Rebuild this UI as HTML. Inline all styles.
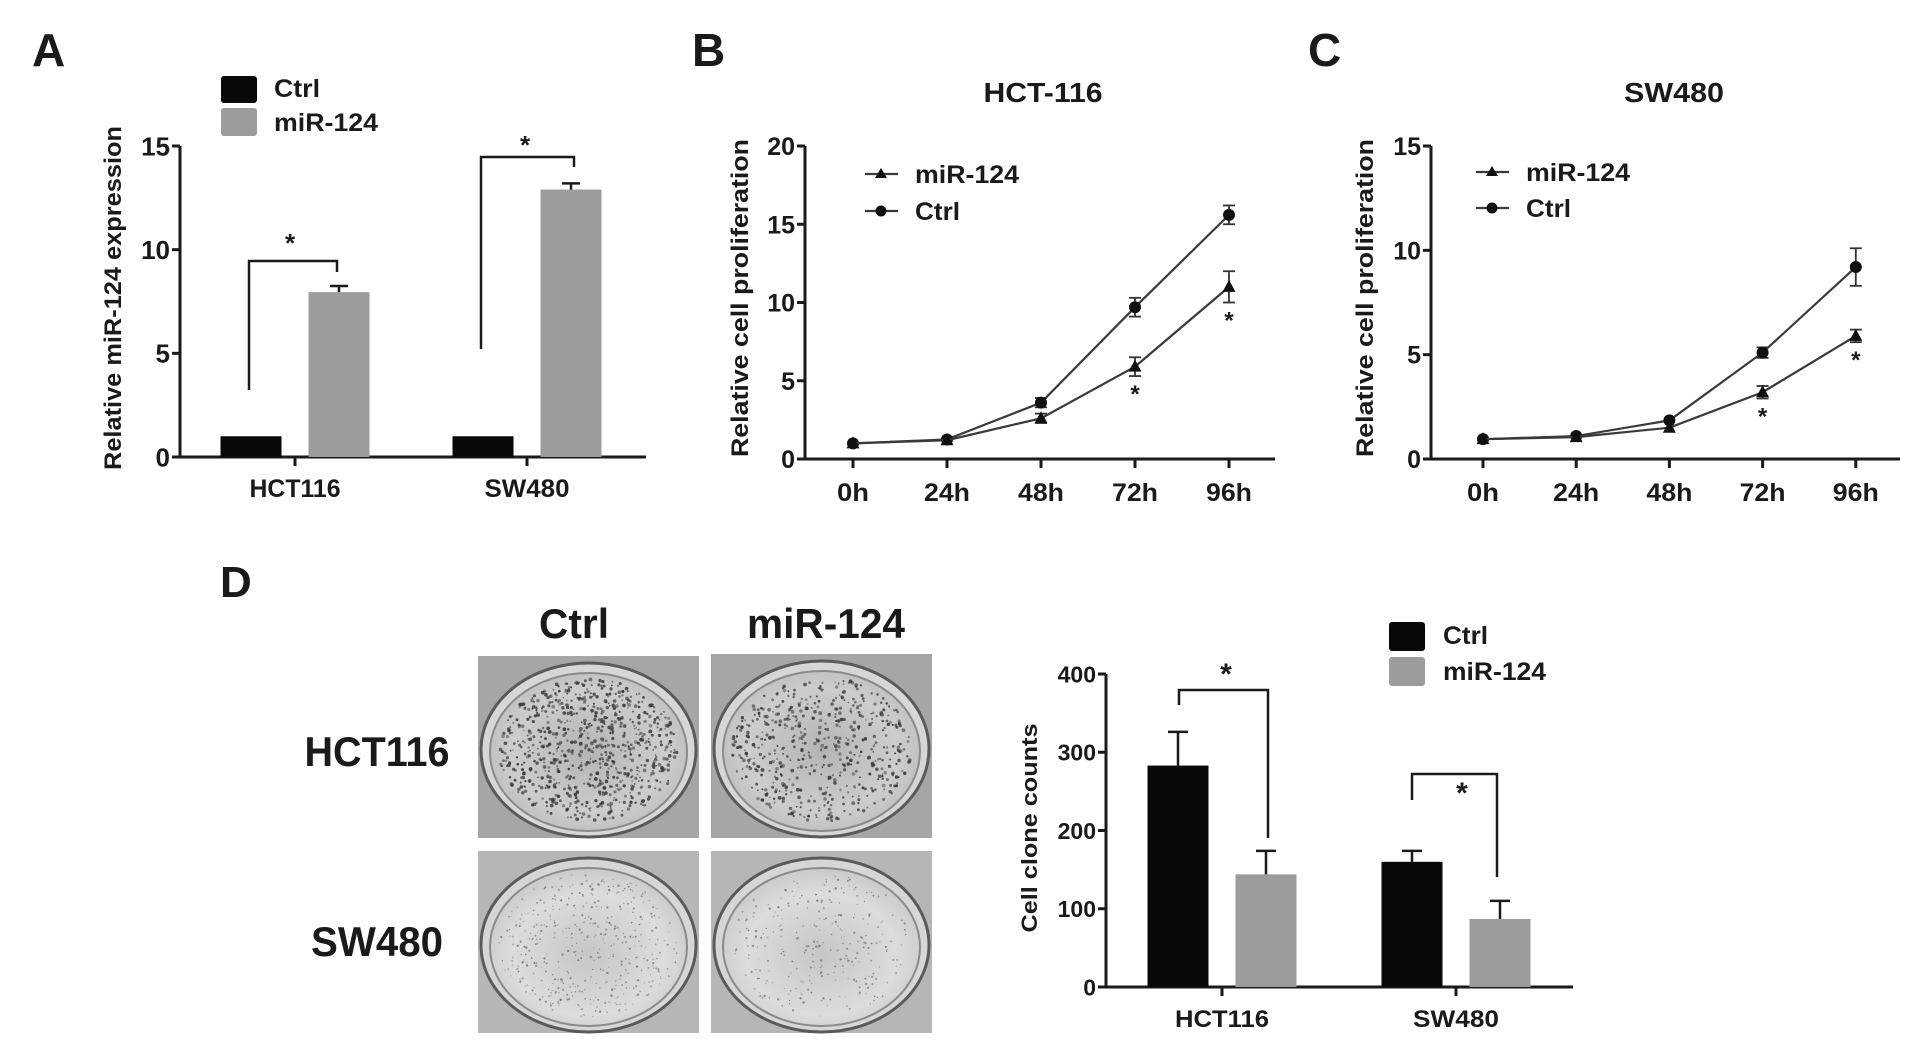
<!DOCTYPE html>
<html><head><meta charset="utf-8">
<style>
html,body{margin:0;padding:0;background:#fff;overflow:hidden;}
svg{display:block;}
text{font-family:"Liberation Sans",sans-serif;font-weight:bold;fill:#1a1a1a;}
</style></head>
<body>
<svg id="fig" width="1913" height="1052" viewBox="0 0 1913 1052" xmlns="http://www.w3.org/2000/svg">
<defs>
<radialGradient id="dishTop" cx="50%" cy="50%" r="55%">
<stop offset="0" stop-color="#b4b4b4"/><stop offset="0.7" stop-color="#cdcdcd"/><stop offset="1" stop-color="#bdbdbd"/></radialGradient>
<radialGradient id="dishBot" cx="50%" cy="55%" r="55%">
<stop offset="0" stop-color="#c6c6c6"/><stop offset="0.7" stop-color="#dcdcdc"/><stop offset="1" stop-color="#cacaca"/></radialGradient>
</defs>
<text x="32" y="66" font-size="46">A</text>
<text x="692" y="66" font-size="46">B</text>
<text x="1308" y="66" font-size="46">C</text>
<text x="220" y="597" font-size="44">D</text>
<g id="gA"></g>
<g id="gB"></g>
<g id="gC"></g>
<g id="gPlates"></g>
<g id="gD"></g>
</svg>
<script>
// ---- Panel A data ----
const aGroups = ["HCT116", "SW480"];
const aCtrl = [1.0, 1.0];
const aMir = [7.95, 12.9];
const aMirErr = [0.3, 0.3];
const aTicks = [0, 5, 10, 15];
// ---- Panel B data ----
const timeLabels = ["0h", "24h", "48h", "72h", "96h"];
const bCtrl = [1.0, 1.25, 3.6, 9.7, 15.6];
const bCtrlErr = [0.1, 0.1, 0.3, 0.6, 0.6];
const bMir = [1.0, 1.2, 2.6, 5.9, 11.0];
const bMirErr = [0.1, 0.1, 0.3, 0.6, 1.0];
const bTicks = [0, 5, 10, 15, 20];
const bStars = [3, 4];
// ---- Panel C data ----
const cCtrl = [0.95, 1.1, 1.85, 5.1, 9.2];
const cCtrlErr = [0.05, 0.05, 0.1, 0.25, 0.9];
const cMir = [0.95, 1.05, 1.5, 3.2, 5.9];
const cMirErr = [0.05, 0.05, 0.1, 0.3, 0.3];
const cTicks = [0, 5, 10, 15];
const cStars = [3, 4];
// ---- Panel D data ----
const dGroups = ["HCT116", "SW480"];
const dCtrl = [283, 160];
const dCtrlErr = [43, 14];
const dMir = [144, 87];
const dMirErr = [30, 23];
const dTicks = [0, 100, 200, 300, 400];

const NS = "http://www.w3.org/2000/svg";
function mk(parent, tag, attrs, txt) {
  const e = document.createElementNS(NS, tag);
  for (const k in attrs) e.setAttribute(k, attrs[k]);
  if (txt !== undefined) e.textContent = txt;
  parent.appendChild(e);
  return e;
}
function line(p, x1, y1, x2, y2, sw, col) {
  return mk(p, "line", {x1: x1, y1: y1, x2: x2, y2: y2, stroke: col || "#1a1a1a", "stroke-width": sw || 3});
}
function yAxis(p, x, y0, y1, vmax, ticks, fs) {
  const sc = v => y0 - (y0 - y1) * v / vmax;
  const ax = line(p, x, y0 + 1.5, x, y1, 3);
  
  
  ticks.forEach(t => {
    line(p, x - 8, sc(t), x, sc(t), 3);
    const tl = mk(p, "text", {x: x - 10, y: sc(t) + fs * 0.36, "font-size": fs, "text-anchor": "end"}, String(t));
    
    
  });
  return sc;
}
function yTitle(p, cx, cy, len, txt, fs) {
  const t = mk(p, "text", {x: 0, y: 0, "font-size": fs, "text-anchor": "middle", transform: `translate(${cx},${cy}) rotate(-90)`, textLength: len, lengthAdjust: "spacingAndGlyphs"}, txt);
  
  
}
function label(p, x, y, txt, fs, len, anchor, name) {
  const a = {x: x, y: y, "font-size": fs, "text-anchor": anchor || "middle"};
  if (len) { a.textLength = len; a.lengthAdjust = "spacingAndGlyphs"; }
  const t = mk(p, "text", a, txt);
  
  
  return t;
}
function star(p, x, y, fs) {
  const s = mk(p, "text", {x: x, y: y, "font-size": fs, "text-anchor": "middle"}, "*");
  
  
}
function bracket(p, xl, yl, xr, yr, ytop) {
  const b = mk(p, "polyline", {points: `${xl},${yl} ${xl},${ytop} ${xr},${ytop} ${xr},${yr}`, fill: "none", stroke: "#1a1a1a", "stroke-width": 2.5});
  
  
}

// ================= Panel A =================
(function () {
  const g = document.getElementById("gA");
  const X0 = 180, Y0 = 457, Y1 = 146, XE = 646;
  const sy = yAxis(g, X0, Y0, Y1, 15, aTicks, 26);
  line(g, X0 - 1.5, Y0, XE, Y0, 3);
  const centers = [295, 527], bw = 61, off = 44;
  aGroups.forEach((gname, i) => {
    const c = centers[i];
    const bc = mk(g, "rect", {x: c - off - bw / 2, y: sy(aCtrl[i]), width: bw, height: Y0 - sy(aCtrl[i]), fill: "#080808"});
    
    
    const bm = mk(g, "rect", {x: c + off - bw / 2, y: sy(aMir[i]), width: bw, height: Y0 - sy(aMir[i]), fill: "#9c9c9c"});
    
    
    const et = sy(aMir[i] + aMirErr[i]);
    line(g, c + off, sy(aMir[i]), c + off, et, 2.5);
    line(g, c + off - 9, et, c + off + 9, et, 2.5);
    line(g, c, Y0, c, Y0 + 9, 3);
    label(g, c, 497, gname, 25, gname === "HCT116" ? 91 : 85, "middle", "x-tick-label");
  });
  bracket(g, 249, 390, 337, 272, 261);
  star(g, 290, 252, 26);
  bracket(g, 481, 349, 574, 167, 157);
  star(g, 525, 154, 26);
  yTitle(g, 121, 298, 344, "Relative miR-124 expression", 24);
  const l1 = mk(g, "rect", {x: 221, y: 76, width: 36, height: 27, rx: 3, fill: "#080808"});
   
  const l2 = mk(g, "rect", {x: 221, y: 108, width: 36, height: 28, rx: 3, fill: "#9c9c9c"});
   
  label(g, 274, 97, "Ctrl", 25, 46, "start", "legend-label-ctrl");
  label(g, 274, 131, "miR-124", 25, 104, "start", "legend-label-mir124");
})();

// ================= Line charts B, C =================
function lineChart(gid, o, ctrl, ctrlErr, mir, mirErr, ticks, stars, title, titleLen) {
  const g = document.getElementById(gid);
  const sy = yAxis(g, o.x0, o.y0, o.y1, o.vmax, ticks, 25);
  line(g, o.x0 - 1.5, o.y0, o.xe, o.y0, 3);
  const sx = i => o.t0 + i * o.dt;
  timeLabels.forEach((t, i) => {
    line(g, sx(i), o.y0, sx(i), o.y0 + 9, 3);
    label(g, sx(i), o.y0 + 42, t, 25, t.length === 2 ? 32 : 46, "middle", "x-tick-label");
  });
  function series(vals, errs, shape, name) {
    const pts = vals.map((v, i) => `${sx(i)},${sy(v)}`).join(" ");
    const pl = mk(g, "polyline", {points: pts, fill: "none", stroke: "#3a3a3a", "stroke-width": 2.2});
    
    
    vals.forEach((v, i) => {
      const x = sx(i), y = sy(v);
      const et = sy(v + errs[i]), eb = sy(v - errs[i]);
      if (y - et > 3) {
        line(g, x, et, x, eb, 1.8, "#333");
        line(g, x - 6, et, x + 6, et, 1.8, "#333");
        line(g, x - 6, eb, x + 6, eb, 1.8, "#333");
      }
      let m;
      if (shape === "circle") m = mk(g, "circle", {cx: x, cy: y, r: 6, fill: "#111"});
      else m = mk(g, "polygon", {points: `${x},${y - 7} ${x - 6.5},${y + 5} ${x + 6.5},${y + 5}`, fill: "#111"});
      
      
    });
  }
  series(ctrl, ctrlErr, "circle", "ctrl");
  series(mir, mirErr, "tri", "mir124");
  stars.forEach(i => star(g, sx(i), sy(mir[i] - mirErr[i]) + 26, 24));
  label(g, o.tcx, 102, title, 28, titleLen, "middle", "chart-title");
  yTitle(g, o.ytx, o.yty, o.ytl, "Relative cell proliferation", 24);
  line(g, o.lx, o.ly1, o.lx + 33, o.ly1, 2.2, "#3a3a3a");
  const lt = mk(g, "polygon", {points: `${o.lx + 16},${o.ly1 - 6} ${o.lx + 10},${o.ly1 + 4} ${o.lx + 22},${o.ly1 + 4}`, fill: "#111"});
   
  line(g, o.lx, o.ly2, o.lx + 33, o.ly2, 2.2, "#3a3a3a");
  const lc = mk(g, "circle", {cx: o.lx + 16, cy: o.ly2, r: 5.5, fill: "#111"});
   
  label(g, o.lx + 50, o.ly1 + 9, "miR-124", 25, 104, "start", "legend-label-mir124");
  label(g, o.lx + 50, o.ly2 + 9, "Ctrl", 25, 45, "start", "legend-label-ctrl");
}
lineChart("gB", {x0: 805, y0: 459, y1: 146, vmax: 20, xe: 1275, t0: 853, dt: 94, tcx: 1043, ytx: 748, yty: 298, ytl: 318, lx: 865, ly1: 174, ly2: 211},
  bCtrl, bCtrlErr, bMir, bMirErr, bTicks, bStars, "HCT-116", 119);
lineChart("gC", {x0: 1431, y0: 459, y1: 146, vmax: 15, xe: 1900, t0: 1483, dt: 93.2, tcx: 1674, ytx: 1373, yty: 298, ytl: 318, lx: 1476, ly1: 172, ly2: 208},
  cCtrl, cCtrlErr, cMir, cMirErr, cTicks, cStars, "SW480", 100);

// ================= Plates =================
(function () {
  const g = document.getElementById("gPlates");
  label(g, 574, 638, "Ctrl", 42, 70, "middle", "column-header-ctrl");
  label(g, 826, 638, "miR-124", 42, 158, "middle", "column-header-mir124");
  label(g, 377, 766, "HCT116", 42, 145, "middle", "row-label-hct116");
  label(g, 377, 956, "SW480", 42, 132, "middle", "row-label-sw480");
  let seed = 7;
  const rnd = () => { seed = (seed * 16807) % 2147483647; return seed / 2147483647; };
  const plates = [
    {x: 478, y: 656, w: 221, h: 182, n: 800, top: true, name: "plate-hct116-ctrl"},
    {x: 711, y: 654, w: 221, h: 184, n: 550, top: true, name: "plate-hct116-mir124"},
    {x: 478, y: 851, w: 221, h: 182, n: 450, top: false, name: "plate-sw480-ctrl"},
    {x: 711, y: 851, w: 221, h: 182, n: 280, top: false, name: "plate-sw480-mir124"}
  ];
  plates.forEach(p => {
    const pg = mk(g, "g", {});
    
    
    mk(pg, "rect", {x: p.x, y: p.y, width: p.w, height: p.h, fill: p.top ? "#a6a6a6" : "#b6b6b6"});
    const cx = p.x + p.w / 2, cy = p.y + p.h / 2 + 3, rx = p.w / 2 - 3, ry = p.h / 2 - 4;
    mk(pg, "ellipse", {cx: cx, cy: cy, rx: rx, ry: ry, fill: "#d6d6d6", stroke: "#5a5a5a", "stroke-width": 3});
    mk(pg, "ellipse", {cx: cx, cy: cy + 2, rx: rx - 9, ry: ry - 8, fill: p.top ? "url(#dishTop)" : "url(#dishBot)", stroke: "#8a8a8a", "stroke-width": 2});
    for (let k = 0; k < p.n; k++) {
      const a = rnd() * Math.PI * 2, r = Math.sqrt(rnd()) * 0.93;
      const dx = cx + Math.cos(a) * r * (rx - 11), dy = cy + Math.sin(a) * r * (ry - 10);
      mk(pg, "circle", {cx: dx.toFixed(1), cy: dy.toFixed(1), r: p.top ? (0.8 + rnd() * 1.1).toFixed(1) : (0.5 + rnd() * 0.7).toFixed(1), fill: p.top ? "#3a3a3a" : "#777", opacity: (0.45 + rnd() * 0.5).toFixed(2)});
    }
  });
})();

// ================= Panel D chart =================
(function () {
  const g = document.getElementById("gD");
  const X0 = 1106, Y0 = 987, Y1 = 674, XE = 1573;
  const sy = yAxis(g, X0, Y0, Y1, 400, dTicks, 23);
  line(g, X0 - 1.5, Y0, XE, Y0, 3);
  const centers = [1222, 1456], bw = 61, off = 44;
  dGroups.forEach((gname, i) => {
    const c = centers[i];
    const bc = mk(g, "rect", {x: c - off - bw / 2, y: sy(dCtrl[i]), width: bw, height: Y0 - sy(dCtrl[i]), fill: "#080808"});
    
    
    const bm = mk(g, "rect", {x: c + off - bw / 2, y: sy(dMir[i]), width: bw, height: Y0 - sy(dMir[i]), fill: "#9c9c9c"});
    
    
    [[c - off, dCtrl[i], dCtrlErr[i]], [c + off, dMir[i], dMirErr[i]]].forEach(([x, v, e]) => {
      const et = sy(v + e);
      line(g, x, sy(v), x, et, 2.5);
      line(g, x - 10, et, x + 10, et, 2.5);
    });
    line(g, c, Y0, c, Y0 + 9, 3);
    label(g, c, 1027, gname, 24, gname === "HCT116" ? 94 : 86, "middle", "x-tick-label");
  });
  bracket(g, 1179, 705, 1268, 838, 690);
  star(g, 1226, 684, 30);
  bracket(g, 1412, 800, 1497, 877, 774);
  star(g, 1462, 803, 30);
  yTitle(g, 1037, 828, 209, "Cell clone counts", 22);
  const l1 = mk(g, "rect", {x: 1389, y: 622, width: 36, height: 29, rx: 3, fill: "#080808"});
   
  const l2 = mk(g, "rect", {x: 1389, y: 657, width: 36, height: 29, rx: 3, fill: "#9c9c9c"});
   
  label(g, 1443, 644, "Ctrl", 25, 45, "start", "legend-label-ctrl");
  label(g, 1443, 680, "miR-124", 25, 103, "start", "legend-label-mir124");
})();
</script>
</body></html>
